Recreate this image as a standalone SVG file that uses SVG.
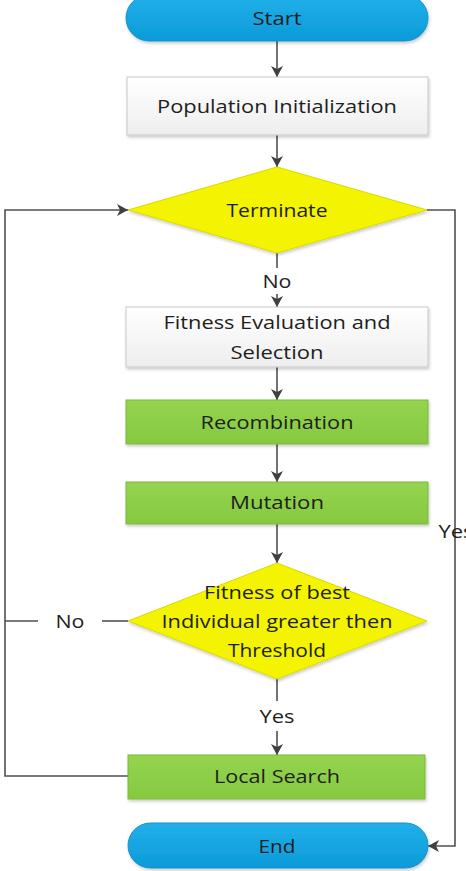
<svg xmlns="http://www.w3.org/2000/svg" width="466" height="871" viewBox="0 0 466 871">
<defs>
<linearGradient id="gBlue" x1="0" y1="0" x2="0" y2="1"><stop offset="0" stop-color="#22b0ea"/><stop offset="1" stop-color="#0a9bd8"/></linearGradient>
<linearGradient id="gGreen" x1="0" y1="0" x2="0" y2="1"><stop offset="0" stop-color="#94d450"/><stop offset="1" stop-color="#86c93f"/></linearGradient>
<linearGradient id="gWhite" x1="0" y1="0" x2="0" y2="1"><stop offset="0" stop-color="#ffffff"/><stop offset="1" stop-color="#eeeeee"/></linearGradient>
<filter id="sh" x="-10%" y="-20%" width="120%" height="150%"><feDropShadow dx="1" dy="2" stdDeviation="1.5" flood-color="#000" flood-opacity="0.2"/></filter>
<marker id="arr" markerWidth="12" markerHeight="12" refX="11" refY="6" orient="auto" markerUnits="userSpaceOnUse"><path d="M0,0 L11,6 L0,12 L3,6 Z" fill="#404040"/></marker>
<style>
.t{font-family:"Open Sans","Noto Sans","Liberation Sans",sans-serif;font-size:18px;fill:#1e1e1e;text-anchor:middle;dominant-baseline:central}
.c{fill:none;stroke:#505050;stroke-width:1.6}
.term{fill:url(#gBlue);stroke:#1590c8;stroke-width:1;filter:url(#sh)}
.green{fill:url(#gGreen);stroke:#7ab83a;stroke-width:1;filter:url(#sh)}
.white{fill:url(#gWhite);stroke:#c8c8c8;stroke-width:1;filter:url(#sh)}
.dia{fill:#f4f400;stroke:#d8d800;stroke-width:1;filter:url(#sh)}
</style>
</defs>
<rect width="466" height="871" fill="#ffffff"/>
<g id="connectors">
<line class="c" x1="277" y1="41" x2="277" y2="77" marker-end="url(#arr)"/>
<line class="c" x1="277" y1="135" x2="277" y2="167" marker-end="url(#arr)"/>
<line class="c" x1="277" y1="253" x2="277" y2="268"/>
<line class="c" x1="277" y1="294" x2="277" y2="307" marker-end="url(#arr)"/>
<line class="c" x1="277" y1="367" x2="277" y2="400" marker-end="url(#arr)"/>
<line class="c" x1="277" y1="444" x2="277" y2="482" marker-end="url(#arr)"/>
<line class="c" x1="277" y1="524" x2="277" y2="563" marker-end="url(#arr)"/>
<line class="c" x1="277" y1="679" x2="277" y2="701"/>
<line class="c" x1="277" y1="731" x2="277" y2="755" marker-end="url(#arr)"/>
<polyline class="c" points="128,776 5,776 5,210 128,210" marker-end="url(#arr)"/>
<line class="c" x1="128" y1="621" x2="102" y2="621"/>
<line class="c" x1="38" y1="621" x2="5" y2="621"/>
<polyline class="c" points="427,210 455,210 455,846 428,846" marker-end="url(#arr)"/>
<text class="t" x="277" y="281" textLength="29" lengthAdjust="spacingAndGlyphs">No</text>
<text class="t" x="70" y="621" textLength="29" lengthAdjust="spacingAndGlyphs">No</text>
<text class="t" x="277" y="716" textLength="35" lengthAdjust="spacingAndGlyphs">Yes</text>
<text class="t" x="456" y="531" textLength="35" lengthAdjust="spacingAndGlyphs">Yes</text>
</g>
<g id="start">
<rect class="term" x="126" y="-5" width="302" height="46" rx="23"/>
<text class="t" x="277" y="18" textLength="49" lengthAdjust="spacingAndGlyphs">Start</text>
</g>
<g id="population">
<rect class="white" x="127" y="77" width="301" height="58"/>
<text class="t" x="277" y="106" textLength="240" lengthAdjust="spacingAndGlyphs">Population Initialization</text>
</g>
<g id="terminate">
<polygon class="dia" points="277,167 427,210 277,253 128,210"/>
<text class="t" x="277" y="210" textLength="101" lengthAdjust="spacingAndGlyphs">Terminate</text>
</g>
<g id="fitness">
<rect class="white" x="126" y="307" width="302" height="60"/>
<text class="t" x="277" y="322" textLength="227" lengthAdjust="spacingAndGlyphs">Fitness Evaluation and</text>
<text class="t" x="277" y="352" textLength="93" lengthAdjust="spacingAndGlyphs">Selection</text>
</g>
<g id="recombination">
<rect class="green" x="126" y="400" width="302" height="44"/>
<text class="t" x="277" y="422" textLength="153" lengthAdjust="spacingAndGlyphs">Recombination</text>
</g>
<g id="mutation">
<rect class="green" x="126" y="482" width="302" height="42"/>
<text class="t" x="277" y="502" textLength="94" lengthAdjust="spacingAndGlyphs">Mutation</text>
</g>
<g id="threshold">
<polygon class="dia" points="277,563 427,621 277,679 128,621"/>
<text class="t" x="277" y="592" textLength="146" lengthAdjust="spacingAndGlyphs">Fitness of best</text>
<text class="t" x="277" y="621" textLength="231" lengthAdjust="spacingAndGlyphs">Individual greater then</text>
<text class="t" x="277" y="650" textLength="98" lengthAdjust="spacingAndGlyphs">Threshold</text>
</g>
<g id="localsearch">
<rect class="green" x="128" y="755" width="297" height="44"/>
<text class="t" x="277" y="776" textLength="126" lengthAdjust="spacingAndGlyphs">Local Search</text>
</g>
<g id="end">
<rect class="term" x="128" y="823" width="300" height="45" rx="22.5"/>
<text class="t" x="277" y="846" textLength="37" lengthAdjust="spacingAndGlyphs">End</text>
</g>
</svg>
